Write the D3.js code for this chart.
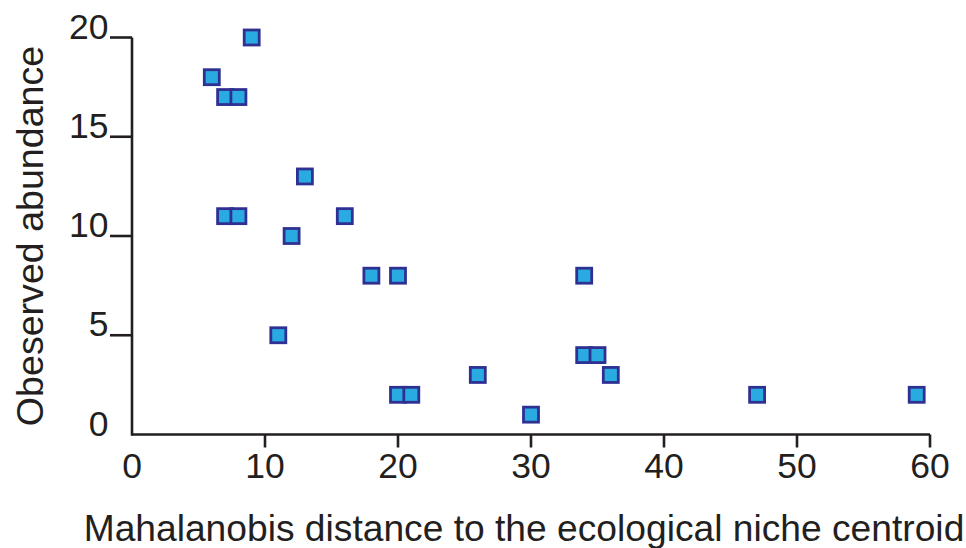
<!DOCTYPE html>
<html>
<head>
<meta charset="utf-8">
<script src="https://cdn.jsdelivr.net/npm/d3@7"></script>
<style>
  html, body { margin: 0; padding: 0; background: #fff; }
  svg { display: block; }
  text { font-family: "Liberation Sans", Arial, sans-serif; fill: #231f20; }
</style>
</head>
<body>
<svg id="chart" width="966" height="548"></svg>
<script>
const distance = [9, 6, 7, 8, 13, 7, 8, 16, 12, 18, 20, 34, 11, 34, 35, 36, 26, 20, 21, 30, 47, 59];
const abundance = [20, 18, 17, 17, 13, 11, 11, 11, 10, 8, 8, 8, 5, 4, 4, 3, 3, 2, 2, 1, 2, 2];
const xTicks = [10, 20, 30, 40, 50, 60];
const xTickLabels = [0, 10, 20, 30, 40, 50, 60];
const yTicks = [5, 10, 15, 20];
const yTickLabels = [0, 5, 10, 15, 20];
const xTitle = "Mahalanobis distance to the ecological niche centroid";
const yTitle = "Obeserved abundance";

const svg = d3.select("#chart");
const x = d3.scaleLinear().domain([0, 60]).range([132, 930]);
const y = d3.scaleLinear().domain([0, 20]).range([434.5, 37.5]);
const ink = "#231f20";

// axis lines
svg.append("line").attr("x1", x(0)).attr("x2", x(60)).attr("y1", y(0)).attr("y2", y(0))
  .attr("stroke", ink).attr("stroke-width", 2.6);
svg.append("line").attr("x1", x(0)).attr("x2", x(0)).attr("y1", y(0) + 1.3).attr("y2", y(20))
  .attr("stroke", ink).attr("stroke-width", 2.6);

// x ticks
svg.selectAll(".xt").data(xTicks).enter().append("line")
  .attr("x1", d => x(d)).attr("x2", d => x(d)).attr("y1", y(0)).attr("y2", y(0) + 13)
  .attr("stroke", ink).attr("stroke-width", 2.6);
svg.selectAll(".xl").data(xTickLabels).enter().append("text")
  .attr("x", d => x(d)).attr("y", 478).attr("text-anchor", "middle")
  .attr("font-size", 35.5).text(d => d);

// y ticks
svg.selectAll(".yt").data(yTicks).enter().append("line")
  .attr("x1", 110).attr("x2", x(0)).attr("y1", d => y(d)).attr("y2", d => y(d))
  .attr("stroke", ink).attr("stroke-width", 2.6);
svg.selectAll(".yl").data(yTickLabels).enter().append("text")
  .attr("x", 108.5).attr("y", d => y(d) + 1).attr("text-anchor", "end")
  .attr("font-size", 35.5).text(d => d);

// titles
svg.append("text").attr("x", 524).attr("y", 541).attr("text-anchor", "middle")
  .attr("font-size", 37.2).text(xTitle);
svg.append("text").attr("transform", "translate(43,236) rotate(-90)")
  .attr("text-anchor", "middle").attr("font-size", 37.6).text(yTitle);

// points
const s = 15;
svg.selectAll(".pt").data(distance.map((d, i) => [d, abundance[i]])).enter().append("rect")
  .attr("x", d => x(d[0]) - s / 2).attr("y", d => y(d[1]) - s / 2)
  .attr("width", s).attr("height", s)
  .attr("fill", "#29abe2").attr("stroke", "#2e3192").attr("stroke-width", 2.8);
</script>
</body>
</html>
